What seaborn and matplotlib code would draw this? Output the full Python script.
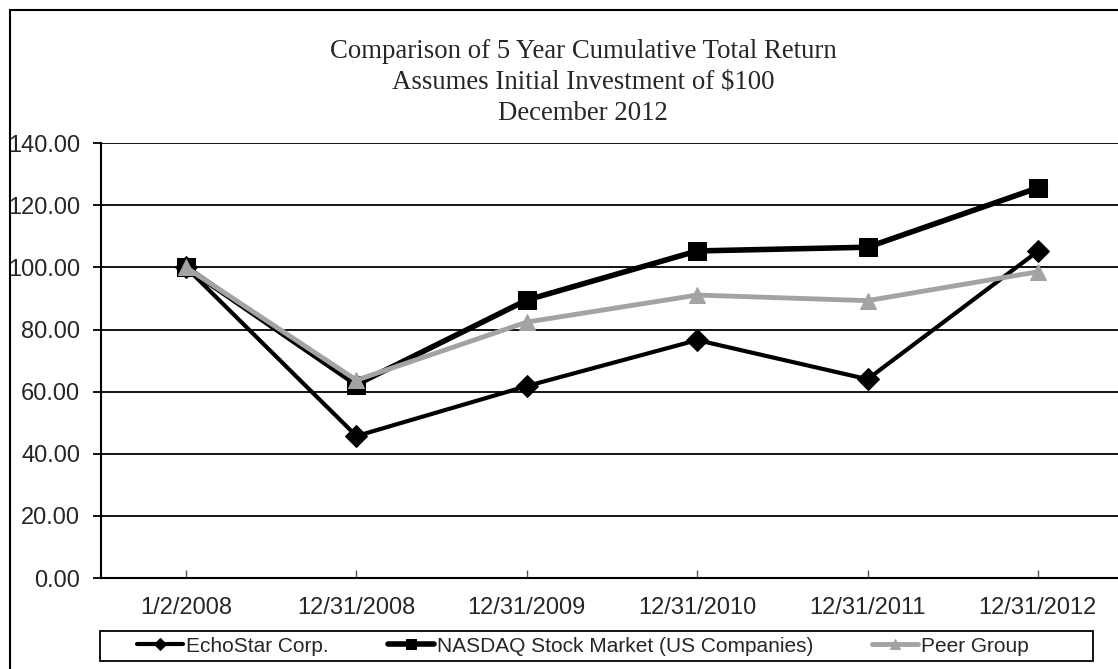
import matplotlib
matplotlib.use("Agg")
import matplotlib.pyplot as plt
import seaborn as sns
import numpy as np
from matplotlib.patches import Rectangle

# values
dates = ["1/2/2008", "12/31/2008", "12/31/2009", "12/31/2010",
         "12/31/2011", "12/31/2012"]
echostar = [100.0, 45.7, 61.8, 76.6, 64.0, 105.2]
nasdaq = [100.0, 62.3, 89.5, 105.3, 106.5, 125.6]
peer = [100.0, 63.7, 82.4, 91.1, 89.3, 98.6]
title_lines = ["Comparison of 5 Year Cumulative Total Return",
               "Assumes Initial Investment of $100",
               "December 2012"]

sns.set_style("white")
plt.rcParams['font.family'] = ['Liberation Sans', 'DejaVu Sans']

fig = plt.figure(figsize=(11.18, 6.69), dpi=100)
ax = fig.add_axes([0.0903, 0.136, 0.9142, 0.650])

x = np.arange(len(dates))
sns.lineplot(x=x, y=echostar, ax=ax, color='black', linewidth=3,
             marker='D', markersize=11, markeredgecolor='black',
             label="EchoStar Corp.")
sns.lineplot(x=x, y=nasdaq, ax=ax, color='black', linewidth=4,
             marker='s', markersize=13, markeredgecolor='black',
             label="NASDAQ Stock Market (US Companies)")
sns.lineplot(x=x, y=peer, ax=ax, color='#a3a3a3', linewidth=3.5,
             marker='^', markersize=12, markeredgecolor='#a3a3a3',
             label="Peer Group")

ax.set_xlim(-0.5, 5.5)
ax.set_ylim(0, 140)
ax.set_yticks(np.arange(0, 141, 20))
ax.set_yticklabels(["%.2f" % v for v in np.arange(0, 141, 20)], fontsize=17)
ax.set_xticks(x)
ax.set_xticklabels(dates, fontsize=17)
ax.yaxis.grid(True, color='black', linewidth=1.3)
ax.set_axisbelow(True)
for s in ['top', 'right']:
    ax.spines[s].set_visible(False)
for s in ['left', 'bottom']:
    ax.spines[s].set_color('black')
    ax.spines[s].set_linewidth(1.5)
ax.tick_params(axis='y', direction='out', length=6, width=1.3, color='black',
               left=True, pad=9)
ax.tick_params(axis='x', direction='in', length=6, width=1, color='#555555',
               bottom=True, pad=14)

# three centred title lines, serif like the original
for i, line in enumerate(title_lines):
    fig.text(583 / 1118, 1 - (51 + 31.5 * i) / 669, line, ha='center',
             va='center', fontsize=19.3, family=['Liberation Serif'])

ax.get_legend().remove()
handles, labels = ax.get_legend_handles_labels()
leg = fig.legend(handles, labels, loc='center', ncol=3,
                 bbox_to_anchor=(583 / 1118, 1 - 646 / 669), fontsize=15,
                 frameon=False, handlelength=2.2, columnspacing=2.85,
                 handletextpad=0.15, borderpad=0.2, markerscale=0.6)

# legend box and outer frame of the picture
fig.patches.append(Rectangle((100 / 1118, 1 - 661 / 669), 993 / 1118,
                             30 / 669, transform=fig.transFigure, fill=False,
                             edgecolor='black', linewidth=1.3))
fig.patches.append(Rectangle((0.009, -0.05), 1.2, 1.035,
                             transform=fig.transFigure, fill=False,
                             edgecolor='black', linewidth=1.5))

fig.savefig("out.png", dpi=100)
